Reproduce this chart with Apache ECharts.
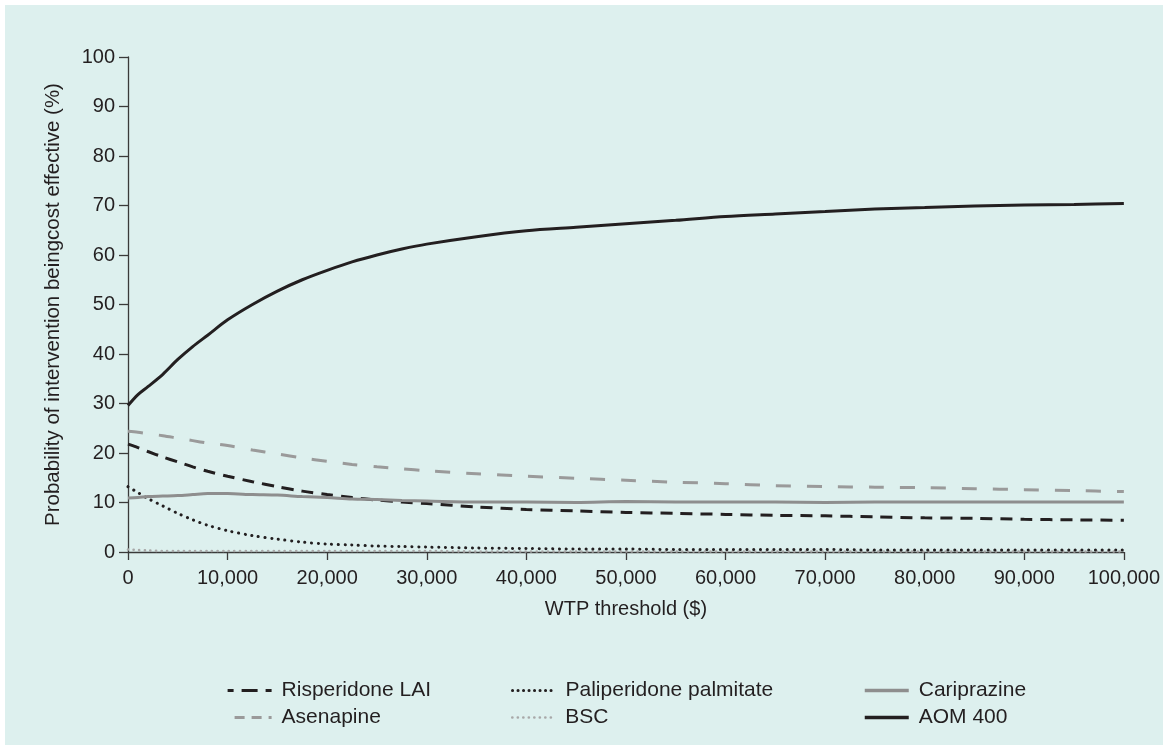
<!DOCTYPE html>
<html>
<head>
<meta charset="utf-8">
<script src="https://cdn.jsdelivr.net/npm/echarts@6/dist/echarts.min.js"></script>
<style>
html,body{margin:0;padding:0;background:#ffffff;width:1163px;height:745px;overflow:hidden;}
#chart{position:absolute;left:5px;top:5px;width:1158px;height:740px;}
</style>
</head>
<body>
<div id="chart"></div>
<script>
// WTP threshold ($)
const wtp = [0, 1000, 2000, 3500, 5000, 6500, 8000, 10000, 12500, 15000, 17500, 20000, 22500, 25000, 27500, 30000, 35000, 40000, 45000, 50000, 55000, 60000, 65000, 70000, 75000, 80000, 85000, 90000, 95000, 100000];
// Probability of intervention being cost effective (%)
const risperidoneLAI = [21.8, 21.1, 20.3, 19.2, 18.2, 17.2, 16.3, 15.3, 14.2, 13.2, 12.3, 11.6, 11.0, 10.5, 10.1, 9.8, 9.1, 8.6, 8.3, 8.0, 7.8, 7.6, 7.4, 7.3, 7.1, 6.9, 6.8, 6.6, 6.5, 6.4];
const paliperidone = [13.2, 12.0, 10.8, 9.3, 7.8, 6.5, 5.4, 4.3, 3.3, 2.6, 2.0, 1.6, 1.4, 1.2, 1.1, 1.0, 0.8, 0.7, 0.6, 0.6, 0.5, 0.5, 0.5, 0.5, 0.4, 0.4, 0.4, 0.4, 0.4, 0.4];
const cariprazine = [10.9, 11.0, 11.2, 11.3, 11.4, 11.6, 11.8, 11.8, 11.6, 11.5, 11.2, 11.0, 10.7, 10.6, 10.4, 10.3, 10.1, 10.1, 10.0, 10.2, 10.1, 10.1, 10.1, 10.0, 10.1, 10.1, 10.1, 10.1, 10.1, 10.1];
const asenapine = [24.4, 24.2, 23.9, 23.5, 23.0, 22.5, 22.0, 21.5, 20.6, 19.8, 19.0, 18.3, 17.7, 17.2, 16.8, 16.4, 15.8, 15.3, 14.9, 14.5, 14.1, 13.8, 13.4, 13.2, 13.1, 13.0, 12.8, 12.6, 12.4, 12.2];
const bsc = [0.5, 0.4, 0.3, 0.2, 0.2, 0.2, 0.2, 0.2, 0.2, 0.2, 0.2, 0.2, 0.2, 0.2, 0.2, 0.2, 0.1, 0.1, 0.1, 0.1, 0.1, 0.1, 0.1, 0.1, 0.1, 0.1, 0.1, 0.1, 0.1, 0.1];
const aom400 = [29.6, 31.8, 33.4, 35.9, 38.9, 41.5, 43.8, 46.9, 50.0, 52.7, 55.0, 56.9, 58.6, 60.0, 61.2, 62.2, 63.7, 64.9, 65.6, 66.3, 67.0, 67.8, 68.3, 68.8, 69.3, 69.6, 69.9, 70.1, 70.2, 70.4];
const seriesNames = ['Risperidone LAI', 'Paliperidone palmitate', 'Cariprazine', 'Asenapine', 'BSC', 'AOM 400'];
const xTicks = [0, 10000, 20000, 30000, 40000, 50000, 60000, 70000, 80000, 90000, 100000];
const yTicks = [0, 10, 20, 30, 40, 50, 60, 70, 80, 90, 100];

const FONT = 'Liberation Sans, Arial, Helvetica, sans-serif';
const TXT = '#231f20';
const BLACK = '#231f20';
const GRAY = '#8e8e8e';
const LGRAY = '#9a9a9a';

function pairs(ys) { return wtp.map((x, i) => [x, ys[i]]); }

const styles = {
  'Risperidone LAI': {color: BLACK, width: 3, type: [12, 8]},
  'Paliperidone palmitate': {color: BLACK, width: 3, type: [0.1, 6.6], cap: 'round'},
  'Cariprazine': {color: GRAY, width: 3, type: 'solid'},
  'Asenapine': {color: LGRAY, width: 3, type: [15, 16]},
  'BSC': {color: '#a8a8a8', width: 2.6, type: [0.1, 5.5], cap: 'round'},
  'AOM 400': {color: BLACK, width: 3, type: 'solid'}
};
// legend-sample line patterns
const legendLine = {
  'Risperidone LAI': {type: [16, 8], dashOffset: 10, width: 3.2},
  'Paliperidone palmitate': {type: [0.1, 5.4], cap: 'round', width: 3},
  'Cariprazine': {width: 3.5},
  'Asenapine': {type: [10, 7], width: 3.2},
  'BSC': {type: [0.1, 5.4], cap: 'round', width: 2.6},
  'AOM 400': {width: 3.5}
};
const dataMap = {
  'Risperidone LAI': risperidoneLAI,
  'Paliperidone palmitate': paliperidone,
  'Cariprazine': cariprazine,
  'Asenapine': asenapine,
  'BSC': bsc,
  'AOM 400': aom400
};
const drawOrder = ['BSC', 'Paliperidone palmitate', 'Risperidone LAI', 'Cariprazine', 'Asenapine', 'AOM 400'];

const series = drawOrder.map(n => ({
  name: n,
  type: 'line',
  data: pairs(dataMap[n]),
  symbol: 'none',
  showSymbol: false,
  smooth: 0.3,
  color: styles[n].color,
  lineStyle: {color: styles[n].color, width: styles[n].width, type: styles[n].type, cap: styles[n].cap || 'butt'},
  animation: false
}));

const colLeft = [221, 505, 858];
const rowTop = [675, 702];
const legends = seriesNames.map((n, i) => ({
  data: [n],
  left: colLeft[i % 3],
  top: rowTop[Math.floor(i / 3)],
  padding: 0,
  itemWidth: 44,
  itemHeight: 14,
  selectedMode: false,
  itemStyle: {opacity: 0},
  lineStyle: Object.assign({color: styles[n].color, cap: 'butt', type: 'solid'}, legendLine[n]),
  textStyle: {fontFamily: FONT, fontSize: 21, color: TXT, padding: [0, 0, 0, 5]}
}));

const chart = echarts.init(document.getElementById('chart'));
chart.setOption({
  backgroundColor: '#ddf0ee',
  animation: false,
  textStyle: {fontFamily: FONT},
  grid: {left: 123, right: 39, top: 52, bottom: 193},
  legend: legends,
  xAxis: {
    type: 'value',
    min: 0, max: 100000, interval: 10000,
    name: 'WTP threshold ($)',
    nameLocation: 'middle',
    nameGap: 47,
    nameTextStyle: {fontFamily: FONT, fontSize: 20, color: TXT},
    axisLine: {show: true, lineStyle: {color: '#3a3a3a', width: 1.3}},
    axisTick: {show: true, length: 8, lineStyle: {color: '#3a3a3a', width: 1.3}},
    axisLabel: {
      margin: 16, fontFamily: FONT, fontSize: 20, color: TXT,
      formatter: v => xTicks.includes(v) ? v.toLocaleString('en-US') : ''
    },
    splitLine: {show: false}
  },
  yAxis: {
    type: 'value',
    min: 0, max: 100, interval: 10,
    name: 'Probability of intervention beingcost effective (%)',
    nameLocation: 'middle',
    nameGap: 64,
    nameTextStyle: {fontFamily: FONT, fontSize: 20.5, color: TXT},
    axisLine: {show: true, lineStyle: {color: '#3a3a3a', width: 1.3}},
    axisTick: {show: true, length: 9, lineStyle: {color: '#3a3a3a', width: 1.3}},
    axisLabel: {
      margin: 13, fontFamily: FONT, fontSize: 20, color: TXT,
      formatter: v => yTicks.includes(v) ? String(v) : ''
    },
    splitLine: {show: false}
  },
  series: series
});
</script>
</body>
</html>
